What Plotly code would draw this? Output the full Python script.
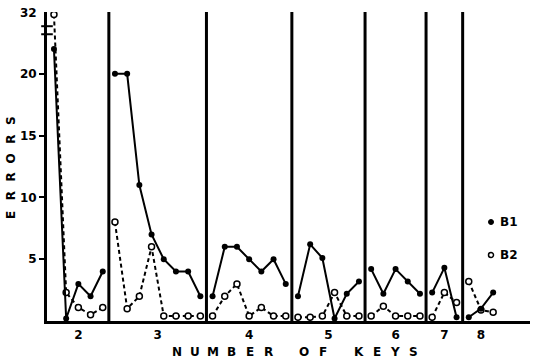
import plotly.graph_objects as go

# ---------------- data ----------------
PANEL_LABELS = ["2", "3", "4", "5", "6", "7", "8"]
PANEL_SIZES = [5, 8, 7, 6, 5, 3, 3]

B1 = [22, 0.2, 3, 2, 4,
      20, 20, 11, 7, 5, 4, 4, 2,
      2, 6, 6, 5, 4, 5, 3,
      2, 6.2, 5.1, 0.2, 2.2, 3.2,
      4.2, 2.2, 4.2, 3.2, 2.2,
      2.3, 4.3, 0.3,
      0.3, 1.0, 2.3]
B2 = [32, 2.3, 1.1, 0.5, 1.1,
      8, 1, 2, 6, 0.4, 0.4, 0.4, 0.4,
      0.4, 2, 3, 0.4, 1.1, 0.4, 0.4,
      0.3, 0.3, 0.4, 2.3, 0.4, 0.4,
      0.4, 1.2, 0.4, 0.4, 0.4,
      0.3, 2.3, 1.5,
      3.2, 0.9, 0.7]
Y_TICKS = [5, 10, 15, 20]
BREAK_LABEL = "32"

# broken-axis scale: values above the break are compressed
BREAK_AT = 23.5


def axis_value(v):
    if v is None:
        return None
    return v if v <= BREAK_AT else BREAK_AT + (v - 30) * 0.65


def panel_series(vals):
    xs, ys = [], []
    k = 0
    for size in PANEL_SIZES:
        for i in range(size):
            xs.append(k + i + 1)
            ys.append(axis_value(vals[k + i]))
        xs.append(None)
        ys.append(None)
        k += size
    return xs, ys


# panel boundaries/centres in session units
bounds = []
k = 0
for size in PANEL_SIZES:
    bounds.append((k + 0.5, k + size + 0.5))
    k += size
centres = [(a + b) / 2 for a, b in bounds]

fig = go.Figure()
x1, y1 = panel_series(B1)
x2, y2 = panel_series(B2)

fig.add_trace(go.Scatter(
    x=x2, y=y2, mode="lines+markers", name="B2", showlegend=False,
    line=dict(color="black", width=2, dash="4px,3px"),
    marker=dict(symbol="circle", size=6, color="white",
                line=dict(color="black", width=1.5)),
    connectgaps=False))
fig.add_trace(go.Scatter(
    x=x1, y=y1, mode="lines+markers", name="B1", showlegend=False,
    line=dict(color="black", width=2),
    marker=dict(symbol="circle", size=6, color="black"),
    connectgaps=False))

X0, X1 = 0.43, 40.02
Y0, Y1 = 0, 25

shapes = []
# separators
for a, b in bounds[:-1]:
    shapes.append(dict(type="line", xref="x", yref="y domain",
                       x0=b, x1=b, y0=0, y1=1,
                       line=dict(color="black", width=3)))
# axis break marks
for yy in (23.2, 23.85):
    shapes.append(dict(type="line", xref="x domain", yref="y",
                       x0=-0.012, x1=0.012, y0=yy, y1=yy,
                       line=dict(color="black", width=2)))
# legend markers
L_X = (491 - 47) / 483
shapes.append(dict(type="circle", xref="paper", yref="paper",
                   xsizemode="pixel", ysizemode="pixel",
                   xanchor=L_X, yanchor=(321 - 222) / 309,
                   x0=-2.5, x1=2.5, y0=-2.5, y1=2.5,
                   fillcolor="black", line=dict(color="black", width=1)))
shapes.append(dict(type="circle", xref="paper", yref="paper",
                   xsizemode="pixel", ysizemode="pixel",
                   xanchor=L_X, yanchor=(321 - 255) / 309,
                   x0=-2.5, x1=2.5, y0=-2.5, y1=2.5,
                   fillcolor="white", line=dict(color="black", width=1.5)))

FONT = "DejaVu Sans"
annotations = []
bold = dict(family=FONT, size=12, color="black", weight="bold")

annotations.append(dict(text="B1", xref="paper", yref="paper",
                        x=(498 - 47) / 483, y=(321 - 222) / 309,
                        xanchor="left", yanchor="middle", showarrow=False,
                        font=bold))
annotations.append(dict(text="B2", xref="paper", yref="paper",
                        x=(498 - 47) / 483, y=(321 - 255) / 309,
                        xanchor="left", yanchor="middle", showarrow=False,
                        font=bold))
# "32" label at top of broken axis
annotations.append(dict(text=BREAK_LABEL, xref="paper", yref="y",
                        x=-0.016, y=axis_value(32) + 0.1,
                        xanchor="right", yanchor="middle", showarrow=False,
                        font=bold))

# X title, letter-spaced
title = "NUMBER OF KEYS"
for i, ch in enumerate(title):
    if ch == " ":
        continue
    px = 177 + i * 18.2
    annotations.append(dict(text=ch, xref="paper", yref="paper",
                            x=(px - 47) / 483, y=-(352 - 321) / 309,
                            xanchor="center", yanchor="middle",
                            showarrow=False, font=bold))
# Y title, letter-spaced, rotated
ytitle = "ERRORS"
for i, ch in enumerate(ytitle):
    py = 215 - i * 18.8
    annotations.append(dict(text=ch, xref="paper", yref="paper",
                            x=-(47 - 11) / 483, y=(321 - py) / 309,
                            xanchor="center", yanchor="middle",
                            textangle=-90, showarrow=False, font=bold))

fig.update_layout(
    width=534, height=361,
    margin=dict(l=47, r=4, t=12, b=40),
    paper_bgcolor="white", plot_bgcolor="white",
    showlegend=False,
    shapes=shapes, annotations=annotations,
    xaxis=dict(range=[X0, X1], showgrid=False, zeroline=False,
               showline=True, linewidth=3, linecolor="black",
               tickmode="array", tickvals=centres, ticktext=PANEL_LABELS,
               ticks="", ticklabelstandoff=1,
               tickfont=dict(family=FONT, size=12, color="black", weight="bold")),
    yaxis=dict(range=[Y0, Y1], showgrid=False, zeroline=False,
               showline=True, linewidth=3, linecolor="black",
               tickmode="array", tickvals=Y_TICKS,
               ticks="outside", ticklen=5, tickwidth=2, tickcolor="black",
               tickfont=dict(family=FONT, size=12, color="black", weight="bold")),
)

fig.write_html("out.html")
